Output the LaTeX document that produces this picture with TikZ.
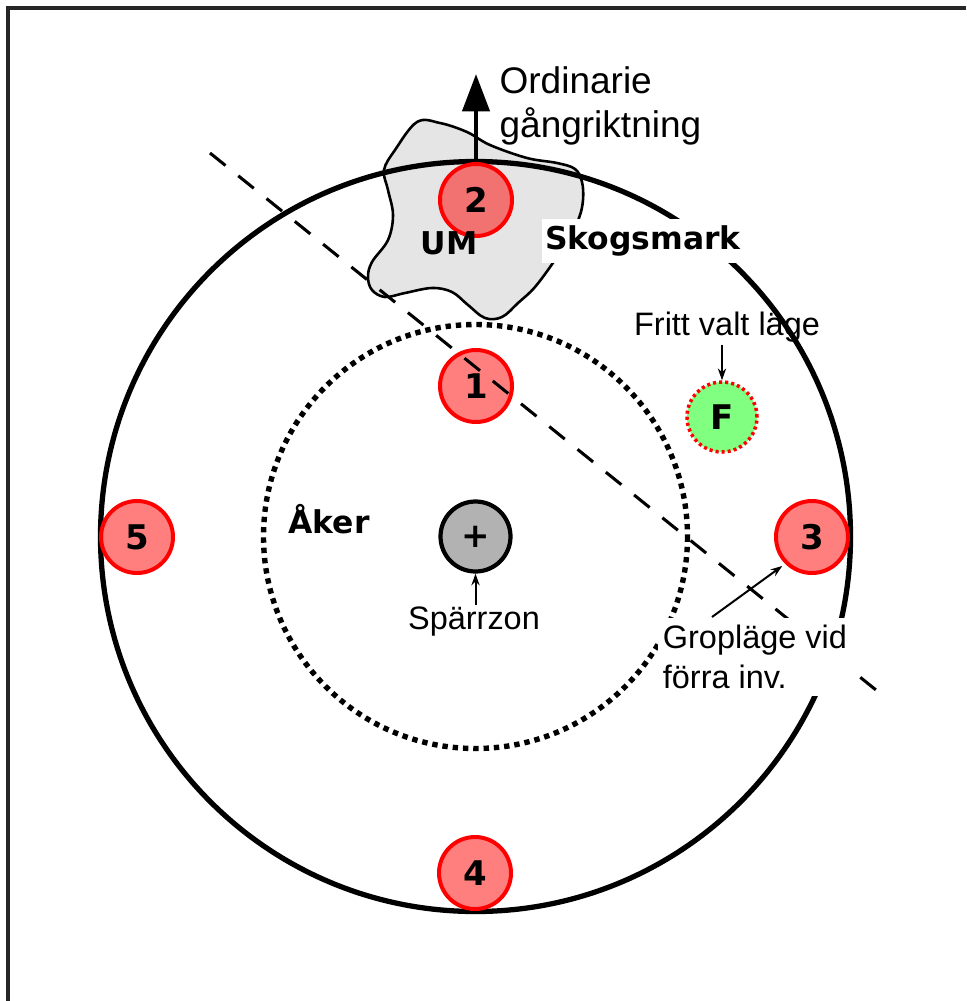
\documentclass[tikz,border=0pt]{standalone}
\usepackage{fontspec}
\setmainfont{Liberation Sans}
\newfontfamily\dejavu{DejaVu Sans}
\usetikzlibrary{arrows.meta}
\newcommand{\lblfont}{\fontsize{27.7}{34}\selectfont}
\newcommand{\dirfont}{\fontsize{31.6}{37.5}\selectfont}
\newcommand{\boldlbl}{\dejavu\bfseries\fontsize{26.8}{32}\selectfont}
\newcommand{\numfont}{\dejavu\bfseries\fontsize{29}{32}\selectfont}
\begin{document}
\begin{tikzpicture}[x=0.03cm,y=-0.03cm,
	pit/.style={circle,draw=red,fill=red,fill opacity=0.5,text opacity=1,line width=3.4pt,minimum size=2.16cm,inner sep=0pt,font=\numfont},
	freepit/.style={circle,draw=red,fill=green!50,line width=3pt,dash pattern=on 2.6pt off 2.6pt,minimum size=2.1cm,inner sep=0pt,font=\numfont},
	lbl/.style={inner sep=2pt,font=\lblfont},
	whitebox/.style={fill=white,inner xsep=3pt,inner ysep=6pt},
	thinarrow/.style={line width=1.7pt,-{Stealth[length=10pt,width=7pt]}}]
	\useasboundingbox (0,0) rectangle (966,1001);
	% frame
	\draw[line width=2.6pt,black!85] (8,1001) -- (8,8) -- (966,8);
	% UM area
	\draw[line width=2.2pt,fill=black!10] plot[smooth cycle,tension=0.6] coordinates {
		(417,122) (440,123) (467,132) (490,145) (527,158) (557,163) (575,169) (582,182) (583,200)
		(579,218) (568,240) (555,260) (535,287) (518,303) (502,317) (485,318) (468,305) (452,292)
		(432,288) (405,293) (385,297) (372,290) (368,277) (372,262) (388,240) (393,215) (388,190)
		(384,170) (395,150)};
	% circles
	\coordinate (c) at (475.5,536.5);
	\draw[line width=4.5pt] (c) circle (375);
	\draw[line width=4.6pt,dash pattern=on 4.6pt off 4.2pt] (c) circle (212);
	\node[circle,draw,fill=gray!60,line width=3.6pt,minimum size=2.1cm,inner sep=0pt,font=\numfont] (sz) at (c) {+};
	\node[pit] (p2) at (476,200) {2};
	\node[pit] (p1) at (476,386) {1};
	\node[pit] (p5) at (137,537) {5};
	\node[pit] (p3) at (812,537) {3};
	\node[pit] (p4) at (475,873) {4};
	\node[freepit] (pF) at (722,417) {F};
	% dashed line
	\coordinate (dl1) at (210,153);
	\coordinate (dl2) at (876,690);
	\draw[line width=2.6pt,dash pattern=on 17pt off 14pt] (dl1) -- (dl2);
	% labels
	\node[inner sep=0pt,font=\boldlbl] (um) at (449,243) {UM};
	\node[whitebox,font=\boldlbl] (skog) at (643,241) {Skogsmark};
	\node[inner sep=0pt,font=\boldlbl] (aker) at (329,519) {Åker};
	\node[lbl,anchor=west,align=left,font=\dirfont] (dir) at (497,106) {Ordinarie\\gångriktning};
	\node[lbl] (fritt) at (727,327) {Fritt valt läge};
	\node[lbl] (spz) at (474,622) {Spärrzon};
	\node[lbl,whitebox,anchor=west,align=left,inner xsep=4pt] (grop) at (658,657) {Gropläge vid\\förra inv.};
	% arrows
	\coordinate (dirtip) at (476,74);
	\draw[line width=4pt,-{Triangle[length=32pt,width=23pt]}] (p2.north) -- (dirtip);
	\draw[thinarrow] (pF.north |- fritt.south) -- (pF.north);
	\draw[thinarrow] (sz.south |- spz.north) -- (sz.south);
	\coordinate (gstart) at (712,617);
	\draw[thinarrow,shorten >=3pt] (gstart) -- (p3.225);
\end{tikzpicture}
\end{document}
